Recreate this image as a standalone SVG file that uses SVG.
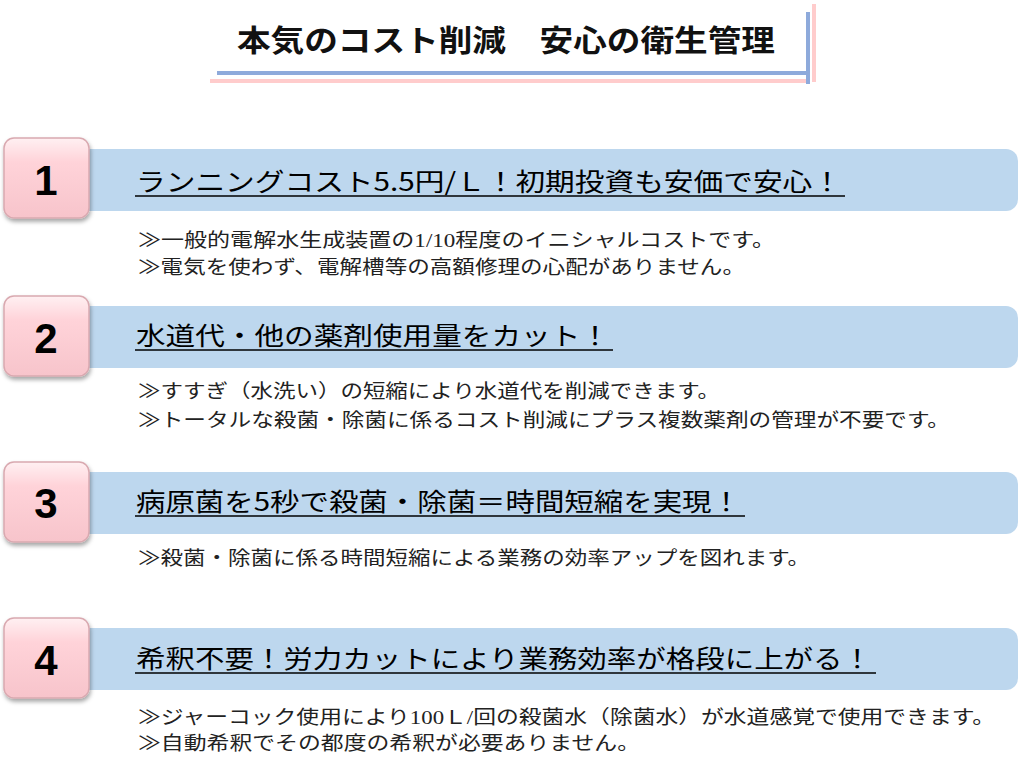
<svg xmlns="http://www.w3.org/2000/svg" width="1022" height="773" viewBox="0 0 1022 773">
<defs>
<linearGradient id="pk" x1="0" y1="0" x2="0" y2="1"><stop offset="0" stop-color="#fff0f2"/><stop offset="0.3" stop-color="#ffd3d9"/><stop offset="1" stop-color="#f7c4cb"/></linearGradient>
<filter id="sh" x="-10%" y="-10%" width="130%" height="130%"><feDropShadow dx="1" dy="3" stdDeviation="2" flood-color="#000" flood-opacity="0.35"/></filter>
</defs>
<style>
.bar{fill:#bdd7ee}
.num{fill:url(#pk);stroke:#d9a9b0;stroke-width:1.5;filter:url(#sh)}
.nt{font-family:"Liberation Sans",Arial,sans-serif;font-weight:bold;font-size:42px;fill:#000;text-anchor:middle}
.h{font-family:"Noto Sans CJK JP","Liberation Sans",sans-serif;font-size:25px;fill:#000}
.b{font-family:"Liberation Serif","Noto Sans CJK JP",serif;font-size:19px;fill:#222}
.ul{stroke:#000;stroke-width:1.5}
</style>
<rect width="1022" height="773" fill="#fff"/>
<g id="title">
<text x="237" y="51" textLength="538" lengthAdjust="spacingAndGlyphs" font-family="Noto Sans CJK JP,sans-serif" font-size="30" font-weight="bold" fill="#111">本気のコスト削減　安心の衛生管理</text>
<rect x="210" y="79" width="598" height="4" fill="#ffcccc"/>
<rect x="812" y="4" width="4" height="78" fill="#ffcccc"/>
<rect x="217" y="71" width="592" height="4" fill="#8eaadb"/>
<rect x="806" y="12" width="4" height="72" fill="#8eaadb"/>
</g>
<g id="s1">
<rect class="bar" x="70" y="149" width="948" height="62" rx="12"/>
<rect class="num" x="4" y="138" width="85" height="80" rx="10"/>
<text class="nt" x="46" y="195">1</text>
<text class="h" x="136" y="191" textLength="706" lengthAdjust="spacingAndGlyphs">ランニングコスト5.5円/Ｌ！初期投資も安価で安心！</text>
<line class="ul" x1="135" y1="196" x2="845" y2="196"/>
<text class="b" x="138" y="247" textLength="637" lengthAdjust="spacingAndGlyphs">≫一般的電解水生成装置の1/10程度のイニシャルコストです。</text>
<text class="b" x="138" y="274" textLength="607" lengthAdjust="spacingAndGlyphs">≫電気を使わず、電解槽等の高額修理の心配がありません。</text>
</g>
<g id="s2">
<rect class="bar" x="70" y="306" width="948" height="62" rx="12"/>
<rect class="num" x="4" y="296" width="85" height="80" rx="10"/>
<text class="nt" x="46" y="353">2</text>
<text class="h" x="136" y="345" textLength="474" lengthAdjust="spacingAndGlyphs">水道代・他の薬剤使用量をカット！</text>
<line class="ul" x1="135" y1="350" x2="613" y2="350"/>
<text class="b" x="138" y="398" textLength="582" lengthAdjust="spacingAndGlyphs">≫すすぎ（水洗い）の短縮により水道代を削減できます。</text>
<text class="b" x="138" y="427" textLength="812" lengthAdjust="spacingAndGlyphs">≫トータルな殺菌・除菌に係るコスト削減にプラス複数薬剤の管理が不要です。</text>
</g>
<g id="s3">
<rect class="bar" x="70" y="472" width="948" height="62" rx="12"/>
<rect class="num" x="4" y="462" width="85" height="80" rx="10"/>
<text class="nt" x="46" y="518">3</text>
<text class="h" x="136" y="511" textLength="605" lengthAdjust="spacingAndGlyphs">病原菌を5秒で殺菌・除菌＝時間短縮を実現！</text>
<line class="ul" x1="135" y1="516" x2="745" y2="516"/>
<text class="b" x="138" y="565" textLength="672" lengthAdjust="spacingAndGlyphs">≫殺菌・除菌に係る時間短縮による業務の効率アップを図れます。</text>
</g>
<g id="s4">
<rect class="bar" x="70" y="628" width="948" height="62" rx="12"/>
<rect class="num" x="4" y="618" width="85" height="80" rx="10"/>
<text class="nt" x="46" y="675">4</text>
<text class="h" x="136" y="668" textLength="736" lengthAdjust="spacingAndGlyphs">希釈不要！労力カットにより業務効率が格段に上がる！</text>
<line class="ul" x1="135" y1="673" x2="876" y2="673"/>
<text class="b" x="138" y="724" textLength="857" lengthAdjust="spacingAndGlyphs">≫ジャーコック使用により100Ｌ/回の殺菌水（除菌水）が水道感覚で使用できます。</text>
<text class="b" x="138" y="750" textLength="502" lengthAdjust="spacingAndGlyphs">≫自動希釈でその都度の希釈が必要ありません。</text>
</g>
</svg>
